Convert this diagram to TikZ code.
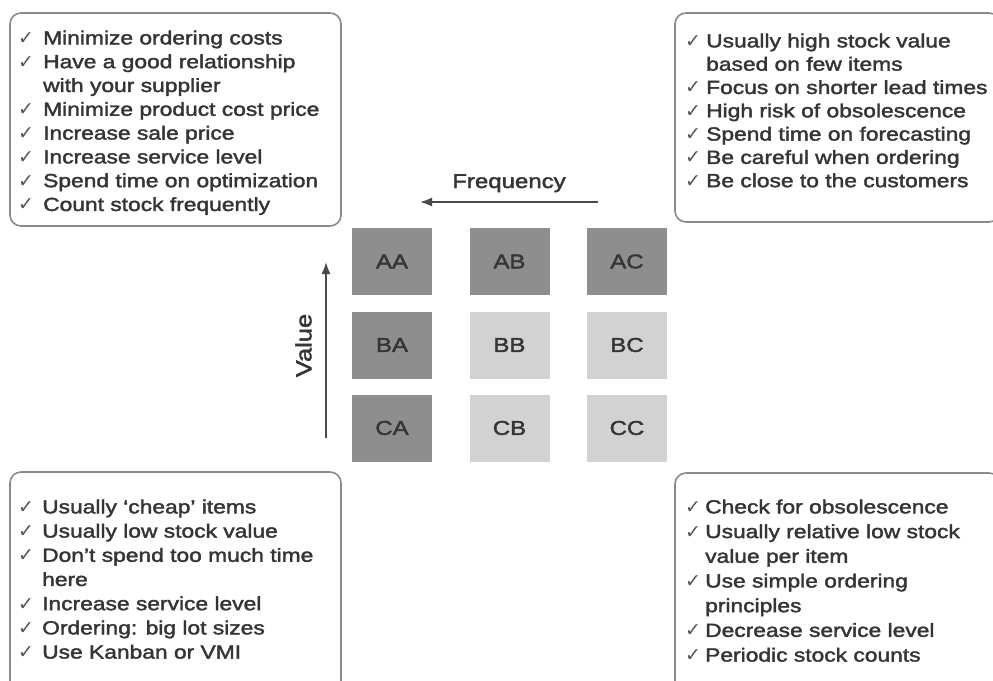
\documentclass[tikz,border=0pt]{standalone}
\usepackage{fontspec}
\setmainfont[FakeStretch=1.2,FakeBold=2]{Liberation Sans}
\newfontfamily\valuefont[FakeStretch=1.16,FakeBold=2]{Liberation Sans}
\newfontfamily\checkfont{DejaVu Sans}
\usetikzlibrary{arrows.meta}

\definecolor{ink}{HTML}{353535}
\definecolor{frame}{HTML}{8A8A8A}
\definecolor{cellDark}{HTML}{8E8E8E}
\definecolor{cellLight}{HTML}{D2D2D2}
\definecolor{tick}{HTML}{555555}
\definecolor{axisgray}{HTML}{4A4A4A}

% width reserved for the tick in front of every list item
\newlength\ckw
\newcommand\ck{\makebox[\ckw][l]{\checkfont\fontsize{19}{19}\selectfont\textcolor{tick}{✓}}}
\newcommand\ckgap{\hspace*{\ckw}}

\begin{document}
\begin{tikzpicture}[x=1pt,y=-1pt,
  panel/.style={draw=frame, line width=1.6pt, rounded corners=11pt},
  notes/.style={anchor=north west, inner sep=0pt, align=left, text=ink},
  cell/.style={minimum width=80pt, minimum height=67pt, inner sep=0pt,
    text=ink, font=\fontsize{20}{24}\selectfont},
  axis/.style={draw=axisgray, line width=1.6pt, -{Latex[length=12pt,width=9pt]}},
  axislabel/.style={text=ink, inner sep=0pt}]

\clip (0,0) rectangle (993,680);
\fill[white] (0,0) rectangle (993,680);

% four comment panels (the right and bottom ones run off the page)
\draw[panel] (10,13) rectangle (341,226);
\draw[panel] (675,13) rectangle (1000,222);
\draw[panel] (10,472) rectangle (341,700);
\draw[panel] (675,473) rectangle (1000,700);

% top left: AA items
\node[notes, font={\setlength\ckw{25pt}\fontsize{19}{23.8}\selectfont}] (notesAA) at (18,30.4) {%
\ck Minimize ordering costs\\
\ck Have a good relationship\\
\ckgap with your supplier\\
\ck Minimize product cost price\\
\ck Increase sale price\\
\ck Increase service level\\
\ck Spend time on optimization\\
\ck Count stock frequently};

% top right: AC items
\node[notes, font={\setlength\ckw{21pt}\fontsize{19}{23.3}\selectfont}] (notesAC) at (685,33.4) {%
\ck Usually high stock value\\
\ckgap based on few items\\
\ck Focus on shorter lead times\\
\ck High risk of obsolescence\\
\ck Spend time on forecasting\\
\ck Be careful when ordering\\
\ck Be close to the customers};

% bottom left: CA items
\node[notes, font={\setlength\ckw{24pt}\fontsize{19}{24.2}\selectfont}] (notesCA) at (18,499.4) {%
\ck Usually ‘cheap’ items\\
\ck Usually low stock value\\
\ck Don’t spend too much time\\
\ckgap here\\
\ck Increase service level\\
\ck Ordering: big lot sizes\\
\ck Use Kanban or VMI};

% bottom right: CC items
\node[notes, font={\setlength\ckw{20pt}\fontsize{19}{24.7}\selectfont}] (notesCC) at (685,499.4) {%
\ck Check for obsolescence\\
\ck Usually relative low stock\\
\ckgap value per item\\
\ck Use simple ordering\\
\ckgap principles\\
\ck Decrease service level\\
\ck Periodic stock counts};

% the 3x3 classification grid
\node[cell, fill=cellDark]  (AA) at (392,261.5) {AA};
\node[cell, fill=cellDark]  (AB) at (509.5,261.5) {AB};
\node[cell, fill=cellDark]  (AC) at (627,261.5) {AC};
\node[cell, fill=cellDark]  (BA) at (392,345) {BA};
\node[cell, fill=cellLight] (BB) at (509.5,345) {BB};
\node[cell, fill=cellLight] (BC) at (627,345) {BC};
\node[cell, fill=cellDark]  (CA) at (392,428) {CA};
\node[cell, fill=cellLight] (CB) at (509.5,428) {CB};
\node[cell, fill=cellLight] (CC) at (627,428) {CC};

% axes
\coordinate (freqTail) at (598,202);
\coordinate (freqHead) at (420,202);
\draw[axis] (freqTail) -- (freqHead);
\node[axislabel, anchor=base, font=\fontsize{20}{24}\selectfont] (freqLabel) at (509,188) {Frequency};

\coordinate (valueTail) at (326,438);
\coordinate (valueHead) at (326,262);
\draw[axis] (valueTail) -- (valueHead);
\node[axislabel, rotate=90, font=\valuefont\fontsize{22}{24}\selectfont] (valueLabel) at (303.5,345.5) {Value};
\end{tikzpicture}
\end{document}
